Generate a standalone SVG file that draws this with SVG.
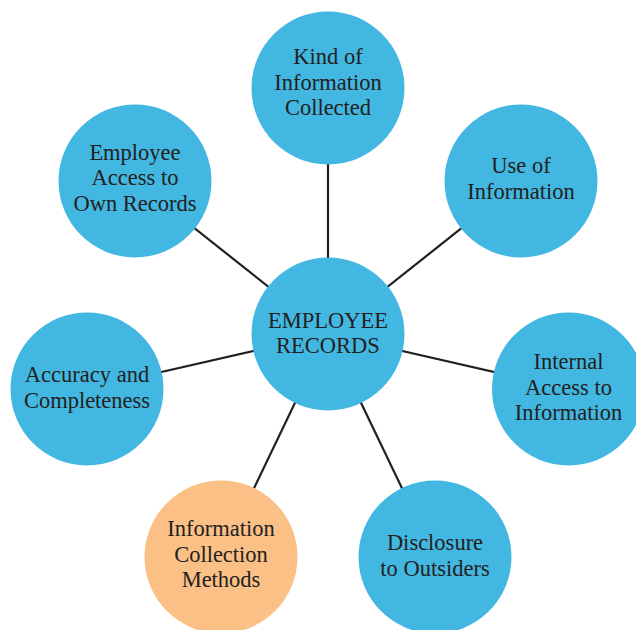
<svg xmlns="http://www.w3.org/2000/svg" width="636" height="630" viewBox="0 0 636 630">
<style>
.n{fill:#42b7e1}
.o{fill:#fbc086}
.t{font-family:"Liberation Serif","Times New Roman",serif;font-size:22.5px;fill:#231f20;text-anchor:middle}
.c{stroke:#231f20;stroke-width:2.2;fill:none}
</style>
<rect width="636" height="630" fill="#fff"/>
<g id="connectors">
<line class="c" x1="328" y1="334" x2="328" y2="88"/>
<line class="c" x1="328" y1="334" x2="521" y2="181"/>
<line class="c" x1="328" y1="334" x2="135" y2="181"/>
<line class="c" x1="328" y1="334" x2="87" y2="389"/>
<line class="c" x1="328" y1="334" x2="568" y2="389"/>
<line class="c" x1="328" y1="334" x2="221" y2="557"/>
<line class="c" x1="328" y1="334" x2="435" y2="557"/>
</g>
<g id="center">
<circle class="n" cx="328" cy="334" r="76.5"/>
<text class="t" x="328" y="328.3">EMPLOYEE</text>
<text class="t" x="328" y="352.5">RECORDS</text>
</g>
<g id="kind">
<circle class="n" cx="328" cy="88" r="76.5"/>
<text class="t" x="328" y="64">Kind of</text>
<text class="t" x="328" y="89.5">Information</text>
<text class="t" x="328" y="115">Collected</text>
</g>
<g id="use">
<circle class="n" cx="521" cy="181" r="76.5"/>
<text class="t" x="521" y="173.3">Use of</text>
<text class="t" x="521" y="198.7">Information</text>
</g>
<g id="employee-access">
<circle class="n" cx="135" cy="181" r="76.5"/>
<text class="t" x="135" y="160">Employee</text>
<text class="t" x="135" y="185.3">Access to</text>
<text class="t" x="135" y="210.7">Own Records</text>
</g>
<g id="accuracy">
<circle class="n" cx="87" cy="389" r="76.5"/>
<text class="t" x="87" y="382.3">Accuracy and</text>
<text class="t" x="87" y="407.7">Completeness</text>
</g>
<g id="internal">
<circle class="n" cx="568.5" cy="389" r="76.5"/>
<text class="t" x="568.5" y="369">Internal</text>
<text class="t" x="568.5" y="395">Access to</text>
<text class="t" x="568.5" y="420">Information</text>
</g>
<g id="collection">
<circle class="o" cx="221" cy="557" r="76.5"/>
<text class="t" x="221" y="536">Information</text>
<text class="t" x="221" y="562">Collection</text>
<text class="t" x="221" y="587.3">Methods</text>
</g>
<g id="disclosure">
<circle class="n" cx="435" cy="557" r="76.5"/>
<text class="t" x="435" y="550">Disclosure</text>
<text class="t" x="435" y="576">to Outsiders</text>
</g>
</svg>
